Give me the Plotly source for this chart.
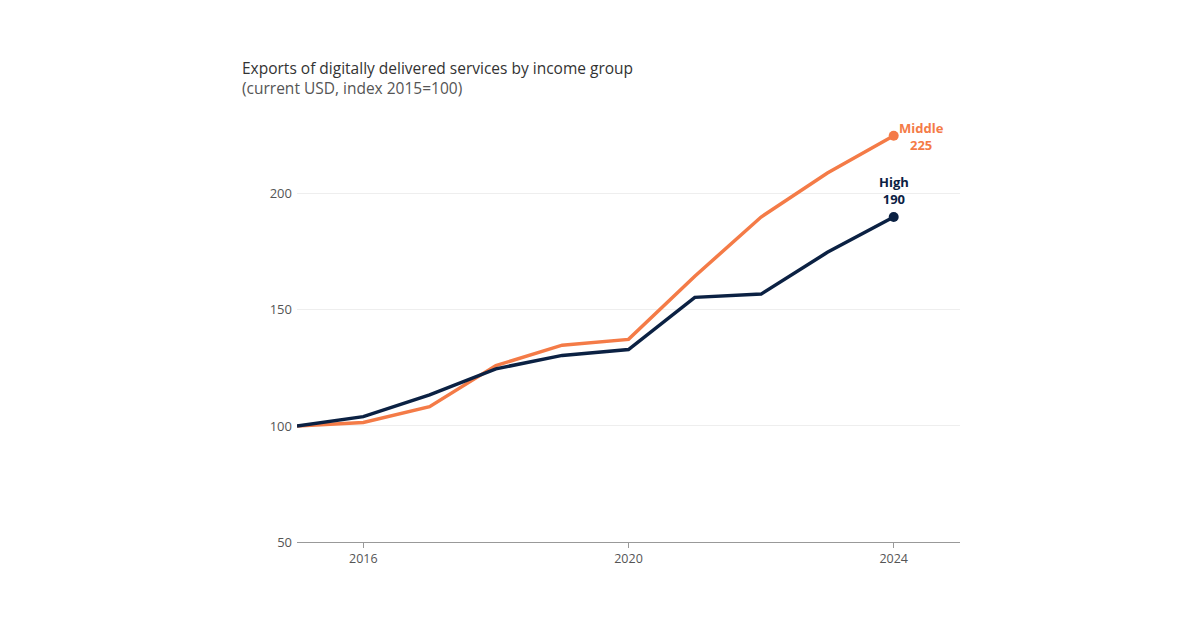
import plotly.graph_objects as go

years = [2015, 2016, 2017, 2018, 2019, 2020, 2021, 2022, 2023, 2024]
high = [100, 104, 113.4, 124.6, 130.4, 132.9, 155.4, 156.8, 174.8, 190]
middle = [100, 101.5, 108.3, 126, 134.8, 137.3, 164.5, 190, 209, 225]

ORANGE = "#F47B47"
NAVY = "#0B2143"

fig = go.Figure()

fig.add_trace(go.Scatter(x=years, y=middle, mode='lines', name='Middle',
                         line=dict(color=ORANGE, width=3.5)))
fig.add_trace(go.Scatter(x=years, y=high, mode='lines', name='High',
                         line=dict(color=NAVY, width=3.5)))

# end point markers
fig.add_trace(go.Scatter(x=[years[-1]], y=[middle[-1]], mode='markers',
                         marker=dict(color=ORANGE, size=10)))
fig.add_trace(go.Scatter(x=[years[-1]], y=[high[-1]], mode='markers',
                         marker=dict(color=NAVY, size=10)))

fig.add_annotation(x=years[-1], y=middle[-1], text="<b>Middle<br>%d</b>" % round(middle[-1]),
                   showarrow=False, xanchor='left', yanchor='middle', xshift=3, yshift=-1,
                   align='center', font=dict(color=ORANGE, size=13))
fig.add_annotation(x=years[-1], y=high[-1], text="<b>High<br>%d</b>" % round(high[-1]),
                   showarrow=False, xanchor='center', yanchor='bottom', yshift=7,
                   align='center', font=dict(color=NAVY, size=13))

fig.update_layout(
    width=1200, height=630,
    margin=dict(l=289, r=248, t=93, b=96),
    paper_bgcolor='white', plot_bgcolor='white',
    font=dict(family='Open Sans, sans-serif', color='#555555'),
    showlegend=False,
    title=dict(text="Exports of digitally delivered services by income group<br>"
                    "<span style='font-size:15.5px;color:#555'>(current USD, index 2015=100)</span>",
               x=234 / 1200, xanchor='left', y=1 - 66 / 630, yanchor='top',
               font=dict(size=15.5, color='#333333')),
    xaxis=dict(range=[2015, 2025], tickvals=[2016, 2020, 2024], showgrid=False,
               showline=True, linecolor='#999999', linewidth=1,
               ticks='outside', ticklen=5, tickcolor='#999999',
               tickfont=dict(size=12.5, color='#555555'), zeroline=False),
    yaxis=dict(range=[50, 240], tickvals=[50, 100, 150, 200], showgrid=True,
               gridcolor='#EEEEEE', gridwidth=1, showline=False, zeroline=False,
               ticks='', ticklabelstandoff=4,
               tickfont=dict(size=13, color='#555555')),
)

fig.write_html("out.html")
